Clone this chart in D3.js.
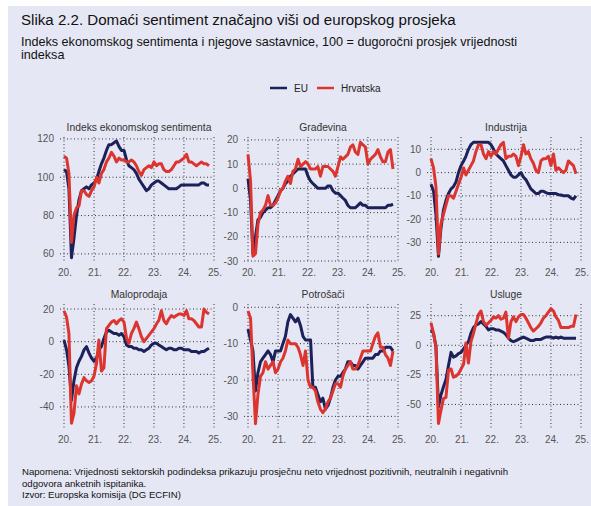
<!DOCTYPE html>
<html>
<head>
<meta charset="utf-8">
<script src="https://cdn.jsdelivr.net/npm/d3@7"></script>
<style>
  body { margin: 0; background: #ffffff; }
  svg text { font-family: "Liberation Sans", Arial, sans-serif; }
</style>
</head>
<body>
<svg id="chart" width="591" height="506"></svg>
<script>
/*---------------- data (monthly, Jan 2020 - Nov 2024) ----------------*/
const yearLabels = ["20.", "21.", "22.", "23.", "24.", "25."];
const seriesNames = ["EU", "Hrvatska"];

// Indeks ekonomskog sentimenta
const esiEU = [104,103,94,58,68,80,88,93,94,95,94,96,97,99,103,107,110,114,117,117,118,119,116,114,114,109,106,105,104,102,99,97,95,93,94,96,97,98,98,97,96,95,94,94,94,94,95,96,96,96,96,96,96,96,96,97,97,96,96];
const esiHR = [111,110,102,66,80,84,85,93,93,91,90,93,95,100,97,102,104,108,110,113,111,108,110,109,109,108,108,109,108,106,103,101,104,105,106,105,108,106,107,107,104,103,103,104,106,108,108,109,110,112,108,108,107,106,107,108,107,107,106];
// Građevina
const gradEU = [4,-5,-27,-20,-13,-12,-10,-9,-8,-8,-7,-5,-3,-1,0,2,3,5,6,7,8,8,8,8,5,3,2,1,0,0,0,0,1,1,-1,-2,-2,-3,-4,-5,-7,-8,-8,-8,-7,-6,-7,-7,-8,-8,-8,-8,-8,-8,-8,-8,-7,-7,-6.5];
const gradHR = [14,3,-28,-27,-15,-10,-9,-7,-3,-7,-7,-6,-4,-1,0,3,5,2,7,8,12,9,10,11,10,8,8,8,9,5,9,9,9,8,7,5,9,13,12,13,14,17,18,15,14,19,18,17,10,12,13,14,16,13,11,11,15,16,8];
// Industrija
const indEU = [-5,-8,-18,-36,-24,-16,-12,-9,-7,-6,-4,0,3,5,7,10,12,13,13,13,13,13,13,13,12,10,8,7,6,5,3,1,-1,-2,-2,-1,0,-2,-3,-5,-7,-8,-9,-9,-8,-8,-8.6,-9,-9,-9,-9,-9.5,-9.6,-10,-10,-10,-11,-11.4,-10];
const indHR = [6,2,-6,-35,-22,-18,-14,-10,-10,-11,-8,-5,-2,2,-1,1,3,5,9,12,12,8,6,9,7,9,8,10,12,13,6,7,7,8,7,3,7,12,8,9,6,4,1,0,5,6,6,7,3,8,1,2,1,0,1,5,4,3,-0.5];
// Maloprodaja
const maloEU = [1,-5,-15,-36,-24,-16,-12,-9,-5,-3,-7,-10,-12,-10,-5,-3,2,6,7,6,5,5,4,5,3,-2,-3,-3,-4,-4,-5,-5,-6,-5,-4,-2,-1,-1,-2,-3,-4,-5,-4,-4,-5,-5,-4,-4,-5,-5,-5,-6,-6,-6,-7,-6,-6,-5,-4];
const maloHR = [19,15,5,-50,-44,-27,-32,-26,-22,-24,-25,-24,-21,-13,1,-18,-16,8,10,12,13,11,13,14,12,2,-1,5,8,12,8,3,0,2,4,6,8,11,13,19,13,11,14,16,15,16,17,17,16,19,14,14,13,11,9,9,20,18,17];
// Potrošači
const potrEU = [-6,-9,-12,-23,-18,-15,-14,-13,-12,-13,-15,-12,-12,-12,-10,-8,-4,-2,-3,-4,-3,-5,-8,-9,-9,-9,-22,-22,-24,-26,-25,-28,-27,-25,-22,-20,-19,-19,-18,-17,-15,-15,-16,-16,-17,-16,-15,-14,-14,-14,-14,-13,-13,-12,-12,-11,-11,-11,-12];
const potrHR = [-1,-3,-18,-32,-24,-19,-18,-15,-17,-16,-15,-18,-17,-15,-14,-12,-9,-10,-10,-10,-11,-13,-16,-12,-20,-22,-22,-23,-26,-28,-29,-28,-26,-25,-23,-21,-21,-22,-19,-17,-16,-15,-17,-17,-16,-14,-12,-12,-12,-12,-10,-8,-7,-11,-11,-13,-14,-16,-12];
// Usluge
const uslEU = [13,10,-1,-52,-42,-35,-29,-17,-6,-10,-9,-7,-6,-3,0,3,10,15,17,18,20,18,16,13,14,14,13,13,12,11,9,6,4,3,4,5,6,7,6,5,4,4,5,5,5,6,7,7,7,6,7,6,7,6,6,6,6,6,6];
const uslHR = [19,10,-1,-66,-55,-45,-44,-21,-20,-27,-26,-24,-20,-16,2,-15,3,10,18,26,29,20,17,19,21,24,23,25,22,23,28,6,20,24,20,24,26,26,23,19,15,12,14,16,19,23,25,28,31,29,24,21,15,15,15,15,16,16,26];

// y-axis ticks per panel
const esiTicks = [60, 80, 100, 120];
const gradTicks = [-30, -20, -10, 0, 10, 20];
const indTicks = [-30, -20, -10, 0, 10];
const maloTicks = [-40, -20, 0, 20];
const potrTicks = [-30, -20, -10, 0];
const uslTicks = [-50, -25, 0, 25];

/*---------------- layout ----------------*/
const colors = { eu: "#1c2159", hr: "#dc3530" };
const colX = [64, 248, 431];
const plotW = 150;
const rowY = [[137, 261], [304, 428]];

const panels = [
  { title: "Indeks ekonomskog sentimenta", eu: esiEU, hr: esiHR, ticks: esiTicks, domain: [56.3, 121], col: 0, row: 0 },
  { title: "Građevina", eu: gradEU, hr: gradHR, ticks: gradTicks, domain: [-30, 21.2], col: 1, row: 0 },
  { title: "Industrija", eu: indEU, hr: indHR, ticks: indTicks, domain: [-38, 15.3], col: 2, row: 0 },
  { title: "Maloprodaja", eu: maloEU, hr: maloHR, ticks: maloTicks, domain: [-52.9, 23.1], col: 0, row: 1 },
  { title: "Potrošači", eu: potrEU, hr: potrHR, ticks: potrTicks, domain: [-33.2, 0.9], col: 1, row: 1 },
  { title: "Usluge", eu: uslEU, hr: uslHR, ticks: uslTicks, domain: [-69.9, 34.9], col: 2, row: 1 }
];

const svg = d3.select("#chart");

// background panel
svg.append("rect")
  .attr("x", 8).attr("y", 6)
  .attr("width", 591 - 8).attr("height", 506 - 6)
  .attr("fill", "#e6e7f4");

// titles
svg.append("text").attr("x", 21).attr("y", 25)
  .attr("font-size", 15.1).attr("fill", "#111")
  .text("Slika 2.2. Domaći sentiment značajno viši od europskog prosjeka");
svg.append("text").attr("x", 21).attr("y", 46)
  .attr("font-size", 12.6).attr("fill", "#111")
  .text("Indeks ekonomskog sentimenta i njegove sastavnice, 100 = dugoročni prosjek vrijednosti");
svg.append("text").attr("x", 21).attr("y", 58.5)
  .attr("font-size", 12.6).attr("fill", "#111")
  .text("indeksa");

// legend
const legend = svg.append("g").attr("transform", "translate(270,88)");
seriesNames.forEach((name, i) => {
  const g = legend.append("g").attr("transform", `translate(${i * 47},0)`);
  g.append("line").attr("x1", 0).attr("x2", 17).attr("y1", 0).attr("y2", 0)
    .attr("stroke", i === 0 ? colors.eu : colors.hr).attr("stroke-width", 2.5);
  g.append("text").attr("x", 24).attr("y", 3.5)
    .attr("font-size", 10).attr("fill", "#222").text(name);
});

/*---------------- panels ----------------*/
const start = new Date(2020, 0, 1);
const end = new Date(2025, 0, 1);

panels.forEach(p => {
  const x0 = colX[p.col];
  const [top, bottom] = rowY[p.row];
  const x = d3.scaleTime().domain([start, end]).range([x0, x0 + plotW]);
  const y = d3.scaleLinear().domain(p.domain).range([bottom, top]);
  const g = svg.append("g");

  // horizontal grid + y labels
  p.ticks.forEach(t => {
    g.append("line")
      .attr("x1", x0 - 4).attr("x2", x0 + plotW)
      .attr("y1", y(t)).attr("y2", y(t))
      .attr("stroke", "#333").attr("stroke-width", 1)
      .attr("stroke-dasharray", "1,2.5");
    g.append("text")
      .attr("x", x0 - 10).attr("y", y(t) + 3.5)
      .attr("text-anchor", "end").attr("font-size", 10).attr("fill", "#555")
      .text(t);
  });

  // vertical grid + x labels
  yearLabels.forEach((lab, i) => {
    const xv = x(new Date(2020 + i, 0, 1));
    g.append("line")
      .attr("x1", xv).attr("x2", xv)
      .attr("y1", top).attr("y2", bottom)
      .attr("stroke", "#333").attr("stroke-width", 1)
      .attr("stroke-dasharray", "1,2.5");
    g.append("text")
      .attr("x", xv + 1).attr("y", bottom + 15)
      .attr("text-anchor", "middle").attr("font-size", 10).attr("fill", "#555")
      .text(lab);
  });

  // panel title
  g.append("text")
    .attr("x", x0 + plotW / 2).attr("y", top - 6)
    .attr("text-anchor", "middle").attr("font-size", 10.3).attr("fill", "#333")
    .text(p.title);

  const line = d3.line()
    .x((d, i) => x(new Date(2020, i, 1)))
    .y(d => y(d));

  g.append("path").datum(p.eu)
    .attr("d", line).attr("fill", "none")
    .attr("stroke", colors.eu).attr("stroke-width", 3)
    .attr("stroke-linejoin", "round");
  g.append("path").datum(p.hr)
    .attr("d", line).attr("fill", "none")
    .attr("stroke", colors.hr).attr("stroke-width", 3)
    .attr("stroke-linejoin", "round");
});

// footnote
const notes = [
  "Napomena: Vrijednosti sektorskih podindeksa prikazuju prosječnu neto vrijednost pozitivnih, neutralnih i negativnih",
  "odgovora anketnih ispitanika.",
  "Izvor: Europska komisija (DG ECFIN)"
];
notes.forEach((t, i) => {
  svg.append("text").attr("x", 22).attr("y", 475 + i * 11.5)
    .attr("font-size", 9.6).attr("fill", "#111").text(t);
});
</script>
</body>
</html>
